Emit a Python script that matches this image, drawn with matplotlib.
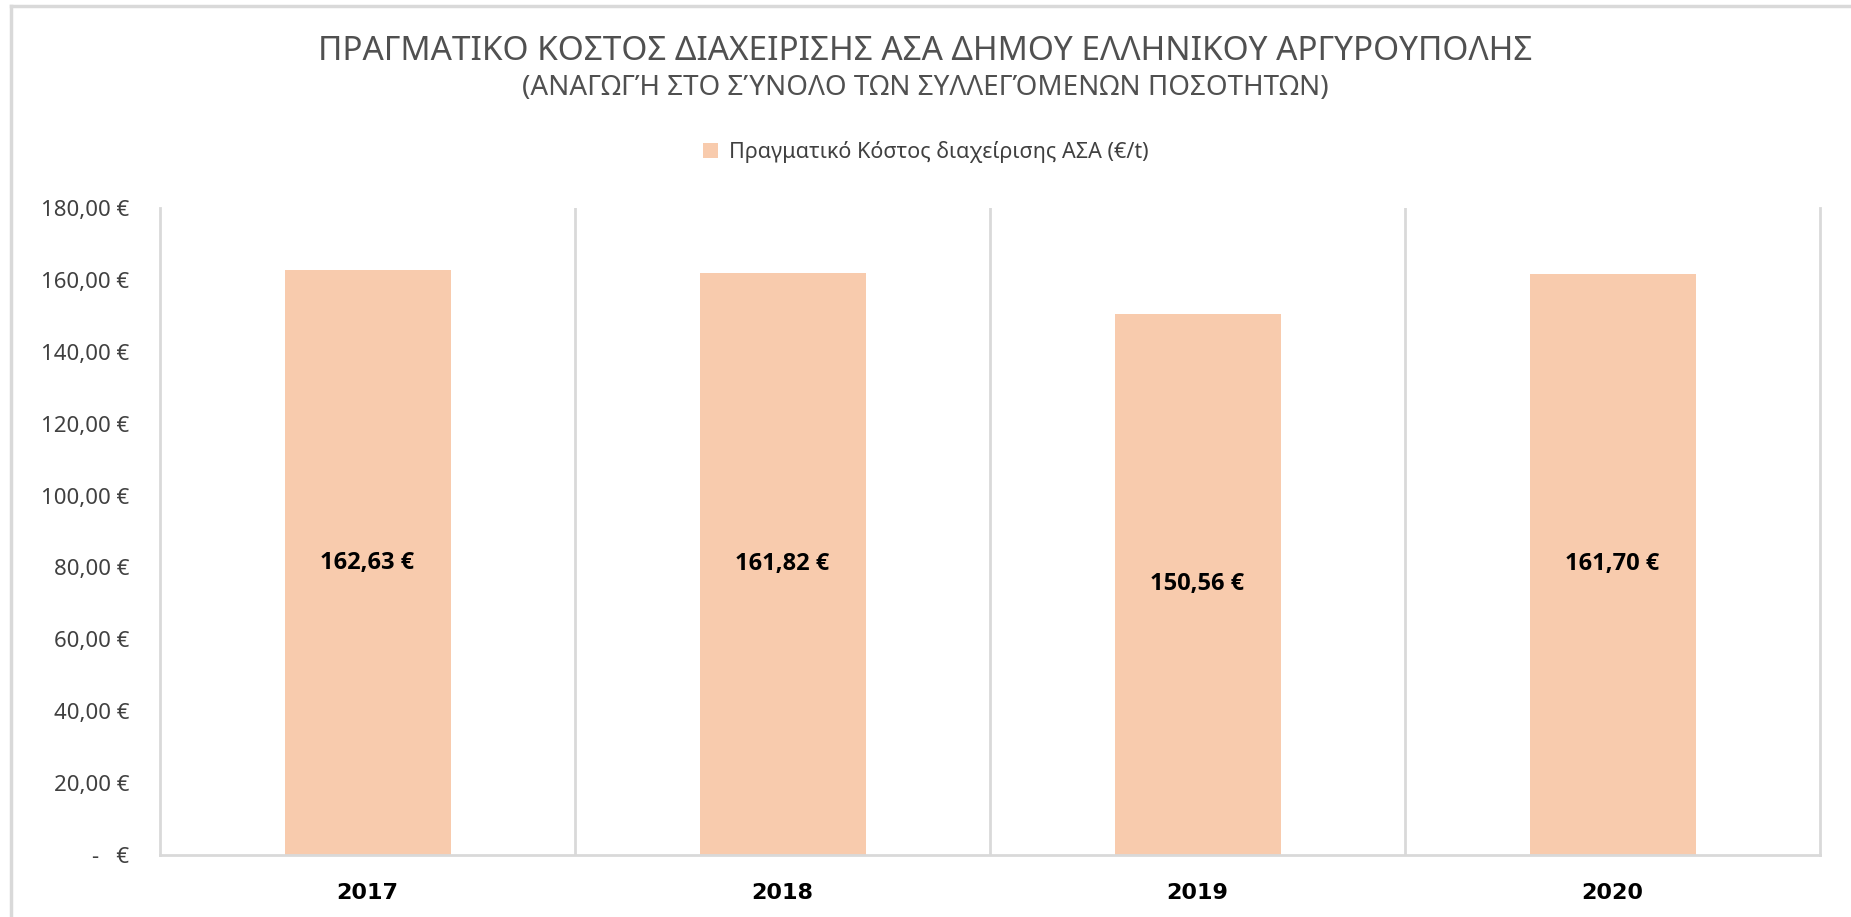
import matplotlib.pyplot as plt
from matplotlib.lines import Line2D
from matplotlib.patches import Patch

years = ['2017', '2018', '2019', '2020']
cost = [162.63, 161.82, 150.56, 161.70]
y_ticks = [0, 20, 40, 60, 80, 100, 120, 140, 160, 180]

title_1 = 'ΠΡΑΓΜΑΤΙΚΟ ΚΟΣΤΟΣ ΔΙΑΧΕΙΡΙΣΗΣ ΑΣΑ ΔΗΜΟΥ ΕΛΛΗΝΙΚΟΥ ΑΡΓΥΡΟΥΠΟΛΗΣ'
title_2 = '(ΑΝΑΓΩΓΉ ΣΤΟ ΣΎΝΟΛΟ ΤΩΝ ΣΥΛΛΕΓΌΜΕΝΩΝ ΠΟΣΟΤΗΤΩΝ)'
legend_label = 'Πραγματικό Κόστος διαχείρισης ΑΣΑ (€/t)'

bar_color = '#F8CBAD'
grid_color = '#D9D9D9'
text_color = '#404040'
fonts = ['Noto Sans', 'DejaVu Sans']
bold_fonts = ['Open Sans', 'DejaVu Sans']

plt.rcParams['font.family'] = fonts


def euro(v):
    if v == 0:
        return '-   €'
    return f'{v:,.2f}'.replace(',', ' ').replace('.', ',') + ' €'


W, H = 1851, 917
fig = plt.figure(figsize=(W / 100, H / 100), dpi=100)
fig.patch.set_facecolor('white')

# outer chart frame (right and bottom edges are cut off in the source)
fig.add_artist(Line2D([11 / W, 11 / W], [0, 1 - 6 / H], color=grid_color, lw=2.5))
fig.add_artist(Line2D([11 / W, 1], [1 - 6 / H, 1 - 6 / H], color=grid_color, lw=2.5))

ax = fig.add_axes([160 / W, 62 / H, 1660 / W, 647 / H])
x = range(len(years))
ax.bar(x, cost, width=0.4, color=bar_color, zorder=2)

for xi, v in zip(x, cost):
    ax.text(xi, v / 2, euro(v), ha='center', va='center', fontsize=17,
            fontweight='bold', color='black', family=bold_fonts)

for sep in [0.5, 1.5, 2.5]:
    ax.axvline(sep, color=grid_color, lw=2, zorder=1)

ax.set_xlim(-0.5, 3.5)
ax.set_ylim(0, 180)
ax.set_yticks(y_ticks)
ax.set_yticklabels([euro(v) for v in y_ticks], fontsize=16, color=text_color)
ax.set_xticks(list(x))
ax.set_xticklabels(years, fontsize=16, fontweight='bold', color='black',
                   family=['DejaVu Sans'])
ax.tick_params(axis='y', length=0, pad=22)
ax.tick_params(axis='x', length=0, pad=20)

for side in ['left', 'right', 'bottom']:
    ax.spines[side].set_color(grid_color)
    ax.spines[side].set_linewidth(2)
ax.spines['top'].set_visible(False)

fig.text(0.5, 1 - 51 / H, title_1, ha='center', va='center', fontsize=24,
         color='#505050')
fig.text(0.5, 1 - 88 / H, title_2, ha='center', va='center', fontsize=20,
         color='#505050')

handle = Patch(facecolor=bar_color, edgecolor='none')
fig.legend([handle], [legend_label], loc='center', bbox_to_anchor=(0.5, 1 - 152 / H),
           frameon=False, fontsize=15.5, handlelength=0.7, handleheight=0.7,
           handletextpad=0.5, labelcolor=text_color)

fig.savefig('out.png', dpi=100, facecolor='white')
